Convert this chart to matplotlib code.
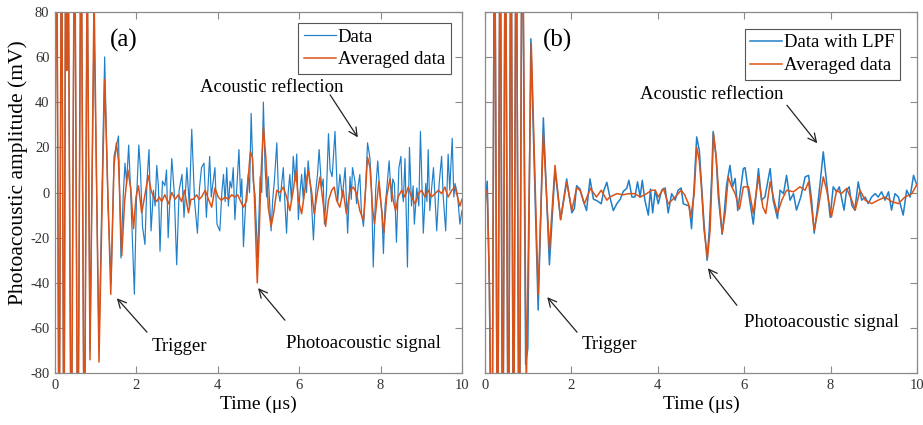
"""Photoacoustic amplitude vs time: (a) raw data vs averaged, (b) LPF data vs averaged."""

import matplotlib
matplotlib.use("Agg")
import matplotlib.pyplot as plt

plt.rcParams["font.family"] = ["Liberation Serif", "DejaVu Serif"]
plt.rcParams["axes.unicode_minus"] = False

BLUE = "#1f7fc8"
ORANGE = "#D95319"
SPINE = "#8a8a8a"
TICK_INK = "#333333"

# ---- panel (a): raw data -------------------------------------------------
a_data_t = [0.00, 0.04, 0.10, 0.16, 0.22, 0.26, 0.29, 0.32, 0.40, 0.48, 0.56, 0.64, 0.72, 0.79,
            0.86, 0.96, 1.08, 1.22, 1.30, 1.38, 1.45, 1.50, 1.56, 1.62, 1.68, 1.72, 1.76, 1.81,
            1.86, 1.90, 1.95, 2.00, 2.06, 2.10, 2.15, 2.21, 2.26, 2.31, 2.36, 2.42, 2.46, 2.50,
            2.54, 2.58, 2.64, 2.70, 2.74, 2.78, 2.83, 2.87, 2.93, 2.99, 3.05, 3.12, 3.17, 3.24,
            3.30, 3.36, 3.43, 3.50, 3.55, 3.60, 3.66, 3.72, 3.80, 3.84, 3.88, 3.93, 3.98, 4.05,
            4.10, 4.14, 4.18, 4.22, 4.26, 4.30, 4.34, 4.38, 4.42, 4.47, 4.52, 4.56, 4.59, 4.63,
            4.69, 4.75, 4.78, 4.82, 4.87, 4.915, 4.98, 5.04, 5.08, 5.12, 5.16, 5.20, 5.24, 5.31,
            5.35, 5.39, 5.45, 5.49, 5.53, 5.57, 5.61, 5.65, 5.69, 5.73, 5.77, 5.81, 5.855, 5.90,
            5.94, 5.98, 6.02, 6.06, 6.10, 6.14, 6.18, 6.22, 6.29, 6.35, 6.41, 6.45, 6.49, 6.55,
            6.59, 6.62, 6.67, 6.72, 6.76, 6.81, 6.88, 6.945, 7.00, 7.06, 7.13, 7.19, 7.25, 7.28,
            7.31, 7.37, 7.41, 7.45, 7.49, 7.53, 7.58, 7.63, 7.68, 7.74, 7.78, 7.82, 7.88, 7.93,
            7.99, 8.03, 8.07, 8.11, 8.15, 8.21, 8.27, 8.30, 8.34, 8.39, 8.45, 8.50, 8.53, 8.56,
            8.60, 8.66, 8.71, 8.76, 8.80, 8.83, 8.89, 8.94, 8.98, 9.05, 9.11, 9.14, 9.17, 9.21,
            9.25, 9.30, 9.34, 9.38, 9.44, 9.50, 9.54, 9.60, 9.66, 9.70, 9.76, 9.80, 9.83, 9.89,
            9.95, 10.0]
a_data_v = [5, 150, -145, 145, -150, 125, 60, 130, -140, 145, -140, 140, -145, 105,
            -70, 76, -68, 60, -5, -40, 16, 20, 25, -29, 0, 13, 4, 21,
            0, -20, -45, -4, 21, 10, -15, -23, 5, 19, -17, 1, -6, 12,
            3, -26, 5, 3, 10, -20, 0, 15, 0, -32, 1, 8, -11, 11,
            -6, 28, -4, -18, 2, 11, 13, -11, 16, -2, 4, 11, -14, -17,
            0, 8, -4, 11, -6, 5, 2, 11, -12, 3, 19, -2, 6, -24,
            -3, 8, 0, 35, 5, -1, -29, 7, 0, 40, 12, -2, 7, -17,
            -3, 5, 22, 0, -4, 4, 11, -5, -18, 0, 8, -4, 16, 5,
            17, -12, 0, 8, -3, 11, 0, 14, 0, -21, 1, 8, 19, 2,
            6, -14, 0, 26, 10, 7, 27, -4, 8, -2, 11, -18, 7, -3,
            11, 5, -5, 3, 8, -9, -15, 1, 22, 15, 1, -33, 1, 14,
            -2, -8, -27, -6, 1, 14, -4, 6, 4, -22, 11, 16, 0, -4,
            15, -33, 20, -6, 3, -14, 2, -6, 27, -18, 4, -4, 19, -8,
            1, 11, -3, -17, 4, 16, -2, -17, 17, 1, 24, -2, 4, -1,
            -14, -8]

a_avg_t = [0.00, 0.04, 0.10, 0.16, 0.22, 0.26, 0.29, 0.32, 0.40, 0.48, 0.56, 0.64, 0.72, 0.79,
           0.86, 0.96, 1.08, 1.22, 1.37, 1.45, 1.51, 1.56, 1.64, 1.71, 1.79, 1.86, 1.93, 1.99,
           2.05, 2.13, 2.21, 2.29, 2.36, 2.42, 2.50, 2.56, 2.62, 2.70, 2.79, 2.87, 2.95, 3.03,
           3.11, 3.18, 3.28, 3.34, 3.40, 3.48, 3.54, 3.60, 3.69, 3.77, 3.85, 3.93, 4.01, 4.09,
           4.18, 4.26, 4.34, 4.42, 4.49, 4.55, 4.63, 4.71, 4.75, 4.80, 4.85, 4.90, 4.93, 4.97,
           5.02, 5.06, 5.12, 5.18, 5.24, 5.31, 5.37, 5.45, 5.53, 5.61, 5.69, 5.77, 5.855, 5.92,
           5.98, 6.06, 6.14, 6.22, 6.30, 6.37, 6.43, 6.51, 6.59, 6.65, 6.72, 6.80, 6.86, 6.92,
           7.00, 7.08, 7.16, 7.25, 7.33, 7.41, 7.49, 7.58, 7.63, 7.68, 7.74, 7.80, 7.85, 7.91,
           7.96, 8.02, 8.08, 8.15, 8.23, 8.31, 8.37, 8.43, 8.52, 8.60, 8.68, 8.76, 8.85, 8.93,
           9.01, 9.09, 9.17, 9.25, 9.34, 9.42, 9.50, 9.58, 9.66, 9.75, 9.83, 9.89, 9.95, 10.0]
a_avg_v = [3, 145, -145, 145, -145, 120, 54, 125, -145, 145, -145, 145, -145, 110,
           -74, 88, -75, 50, -45, 12, 22, 14, -28, -4, 10, 2, -16, -2,
           3, -9, -1, 7.5, 1, -2, -4, -2, -4, -1, -5, 0, -3, -1,
           -4, 1, -9, -3, -3, -1, -3, -2, 1, -3, -6.5, 2, -2, -3.5,
           -2, -3, -1, -2, -1, -3.5, -6.5, -3.5, 7, 18, 15.6, -2, -18, -40,
           -17, 7, 29, 15.6, -6.5, -15, -9.4, 1, 0, 2.4, -2, -8, 1, 9.7,
           -3.5, -9.4, 1, 9.7, 1, -9.4, -2, 6.8, -4.7, -15, -3.5, 1, 2.4, -3.5,
           -6.5, 1, -9.4, 1, 2.4, -0.5, -8, -12.4, 1, 15.6, 11, -6.5, -13.9, -3.5,
           5, -6.5, -18, -2, 6, -3.5, -8, -2, 1, -2, 2.4, -2, -5, -0.5,
           1, -2, 1, -2, -0.5, 1, -0.5, 2.4, -2, 1, 2.4, -2, -6, -3]

# ---- panel (b): low-pass filtered data -----------------------------------
b_lpf_t = [0.00, 0.05, 0.10, 0.16, 0.22, 0.29, 0.35, 0.41, 0.47, 0.54, 0.60, 0.66, 0.72, 0.79,
           0.86, 0.94, 0.99, 1.06, 1.23, 1.35, 1.49, 1.62, 1.75, 1.89, 2.01, 2.07, 2.12, 2.20,
           2.28, 2.35, 2.43, 2.51, 2.58, 2.69, 2.75, 2.82, 2.89, 2.97, 3.05, 3.13, 3.20, 3.28,
           3.33, 3.40, 3.47, 3.53, 3.59, 3.64, 3.70, 3.78, 3.83, 3.88, 3.94, 4.01, 4.09, 4.17,
           4.24, 4.32, 4.40, 4.47, 4.54, 4.59, 4.67, 4.73, 4.78, 4.84, 4.90, 4.96, 5.01, 5.07,
           5.14, 5.19, 5.25, 5.28, 5.35, 5.40, 5.49, 5.53, 5.59, 5.67, 5.73, 5.79, 5.85, 5.92,
           5.98, 6.02, 6.10, 6.21, 6.33, 6.40, 6.48, 6.60, 6.67, 6.77, 6.83, 6.91, 6.98, 7.06,
           7.14, 7.21, 7.31, 7.41, 7.49, 7.56, 7.62, 7.68, 7.76, 7.83, 7.91, 7.99, 8.06, 8.14,
           8.20, 8.25, 8.31, 8.37, 8.43, 8.49, 8.56, 8.64, 8.72, 8.80, 8.87, 8.95, 9.03, 9.10,
           9.18, 9.26, 9.34, 9.41, 9.49, 9.57, 9.68, 9.76, 9.84, 9.92, 10.0]
b_lpf_v = [-6, 5, -40, -150, 150, -150, 150, -150, 150, -150, 150, -150, 150, -150,
           150, -76, -69, 68, -52, 33, -32, 10, -12, 6, -9, -7, 3, 1.5,
           -4, -8, 6, -3, -3.5, -5, 1, 4.5, -2, -8, -5, -3, 0.5, 1.8,
           5.4, -2, -2, 4.7, -2, 5.4, -3.4, -10, 1.5, -9, 1, -5, 1, 2,
           -9, -0.5, -3.4, 1, 2, -5, -5.6, -6, -16, 2.5, 24.6, 18.7, 4, -13.7,
           -30, -16.7, 7.9, 27, 15.8, -2, -18.5, -10.8, 3, 12, 2.5, 6.2, -8, 2,
           10.6, 11, 0, -14, 10.6, -3.4, -2, 10.6, -3.4, -11.5, 1, -0.5, 7.6, -3.4,
           -0.5, -7.8, -2, 6.9, 7.6, -3.4, -18, -9.3, 4.7, 18, 4, -11, 2.5, 0.3,
           2.5, -2, -7.8, 1, 2.5, -5.6, -7.8, 4.7, -3.4, -2, -4.9, -2, -0.5, -2,
           0.3, -3.4, 0.3, -7.8, -0.5, -2, -10, 1, -2, 7.6, 3]

b_avg_t = [0.00, 0.05, 0.10, 0.16, 0.22, 0.29, 0.35, 0.41, 0.47, 0.54, 0.60, 0.66, 0.72, 0.79,
           0.86, 0.955, 1.07, 1.23, 1.35, 1.49, 1.62, 1.75, 1.89, 2.01, 2.12, 2.20, 2.30, 2.44,
           2.58, 2.69, 2.82, 2.89, 3.05, 3.20, 3.33, 3.47, 3.59, 3.70, 3.86, 3.94, 4.01, 4.13,
           4.24, 4.40, 4.54, 4.62, 4.71, 4.76, 4.84, 4.90, 4.96, 5.01, 5.07, 5.15, 5.21, 5.29,
           5.35, 5.42, 5.49, 5.56, 5.63, 5.70, 5.79, 5.89, 5.98, 6.10, 6.21, 6.33, 6.43, 6.50,
           6.60, 6.69, 6.77, 6.87, 6.98, 7.14, 7.29, 7.41, 7.49, 7.62, 7.72, 7.83, 7.91, 8.02,
           8.14, 8.25, 8.37, 8.49, 8.57, 8.68, 8.80, 8.95, 9.10, 9.26, 9.41, 9.57, 9.72, 9.88,
           10.0]
b_avg_v = [-1, 1, -40, -150, 150, -150, 150, -150, 150, -150, 150, -150, 150, -150,
           150, -88, 66, -45, 26, -25.5, 12, -12, 4.6, -8, 2, 1, -5, 1.8,
           -2, 1, -3.4, -2, -0.5, -1, -0.5, -0.5, -2, -1, 1, 1, -2, 1.8,
           -5, -2, 1, -1, -5, -11, -1, 20, 14, 2, -16.6, -29, -16.7, 26,
           15.8, -3, -18, -9, 6.9, 3, -0.5, -7.3, 2.5, 2.5, -9.3, 6.9, -6.4, -9.3,
           4.7, -3.4, -9.3, -3.4, 1, 0.3, 2.5, 1, 4.7, -16.7, -6.4, 6.9, 1, -10.8,
           1, -0.5, 1.8, -3.4, -7.8, 1, -3.4, -4.9, -3.4, -2, -4, -4.9, -2, -0.5,
           3.6]

X_TICKS = [0, 2, 4, 6, 8, 10]
Y_TICKS = [-80, -60, -40, -20, 0, 20, 40, 60, 80]


def style_axes(ax, show_ylabels):
    ax.set_xlim(0, 10)
    ax.set_ylim(-80, 80)
    ax.set_xticks(X_TICKS)
    ax.set_yticks(Y_TICKS)
    if not show_ylabels:
        ax.set_yticklabels([])
    ax.tick_params(direction="in", top=True, right=True, length=5, width=0.8,
                   color=SPINE, labelcolor=TICK_INK, labelsize=10.5, pad=4)
    for s in ax.spines.values():
        s.set_color(SPINE)
        s.set_linewidth(0.9)
    ax.set_xlabel("Time (μs)", fontsize=14, labelpad=3)


def arrow(ax, tail, head):
    ax.annotate("", xy=head, xytext=tail,
                arrowprops=dict(arrowstyle="->", color="#222222", lw=0.9,
                                mutation_scale=15, shrinkA=0, shrinkB=0))


def main():
    fig = plt.figure(figsize=(9.23, 4.25), dpi=100)
    ax_a = fig.add_axes([0.0596, 0.1216, 0.4409, 0.8509])
    ax_b = fig.add_axes([0.5255, 0.1216, 0.468, 0.8509])

    # (a)
    ax_a.plot(a_data_t, a_data_v, color=BLUE, lw=0.85, label="Data")
    ax_a.plot(a_avg_t, a_avg_v, color=ORANGE, lw=1.1, label="Averaged data")
    style_axes(ax_a, True)
    ax_a.set_ylabel("Photoacoustic amplitude (mV)", fontsize=15.5)
    ax_a.yaxis.set_label_coords(-0.066, 0.555)
    ax_a.text(1.70, 67.4, "(a)", fontsize=18, ha="center", va="center")
    ax_a.text(5.33, 46.6, "Acoustic reflection", fontsize=13.5, ha="center", va="center")
    arrow(ax_a, (6.76, 43.2), (7.44, 24.4))
    ax_a.text(3.05, -68, "Trigger", fontsize=13.5, ha="center", va="center")
    arrow(ax_a, (2.26, -61.8), (1.52, -46.8))
    ax_a.text(7.59, -66.7, "Photoacoustic signal", fontsize=13.5, ha="center", va="center")
    arrow(ax_a, (5.65, -56.5), (4.99, -42.3))

    # (b)
    ax_b.plot(b_lpf_t, b_lpf_v, color=BLUE, lw=1.1, label="Data with LPF")
    ax_b.plot(b_avg_t, b_avg_v, color=ORANGE, lw=1.1, label="Averaged data")
    style_axes(ax_b, False)
    ax_b.text(1.67, 67.4, "(b)", fontsize=18, ha="center", va="center")
    ax_b.text(5.25, 43.5, "Acoustic reflection", fontsize=13.5, ha="center", va="center")
    arrow(ax_b, (6.99, 38.6), (7.69, 21.8))
    ax_b.text(2.87, -67.2, "Trigger", fontsize=13.5, ha="center", va="center")
    arrow(ax_b, (2.13, -61.8), (1.44, -46.3))
    ax_b.text(7.78, -57.4, "Photoacoustic signal", fontsize=13.5, ha="center", va="center")
    arrow(ax_b, (5.83, -49.9), (5.16, -33.5))

    for ax, pad in ((ax_a, 0.6), (ax_b, 0.9)):
        leg = ax.legend(loc="upper right", fontsize=13.5, fancybox=False, framealpha=1,
                        edgecolor="#555555", borderpad=0.3, handlelength=1.7,
                        handletextpad=0.1, labelspacing=0.3, borderaxespad=pad)
        leg.get_frame().set_linewidth(0.8)

    fig.savefig("out.png", dpi=100)


if __name__ == "__main__":
    main()
